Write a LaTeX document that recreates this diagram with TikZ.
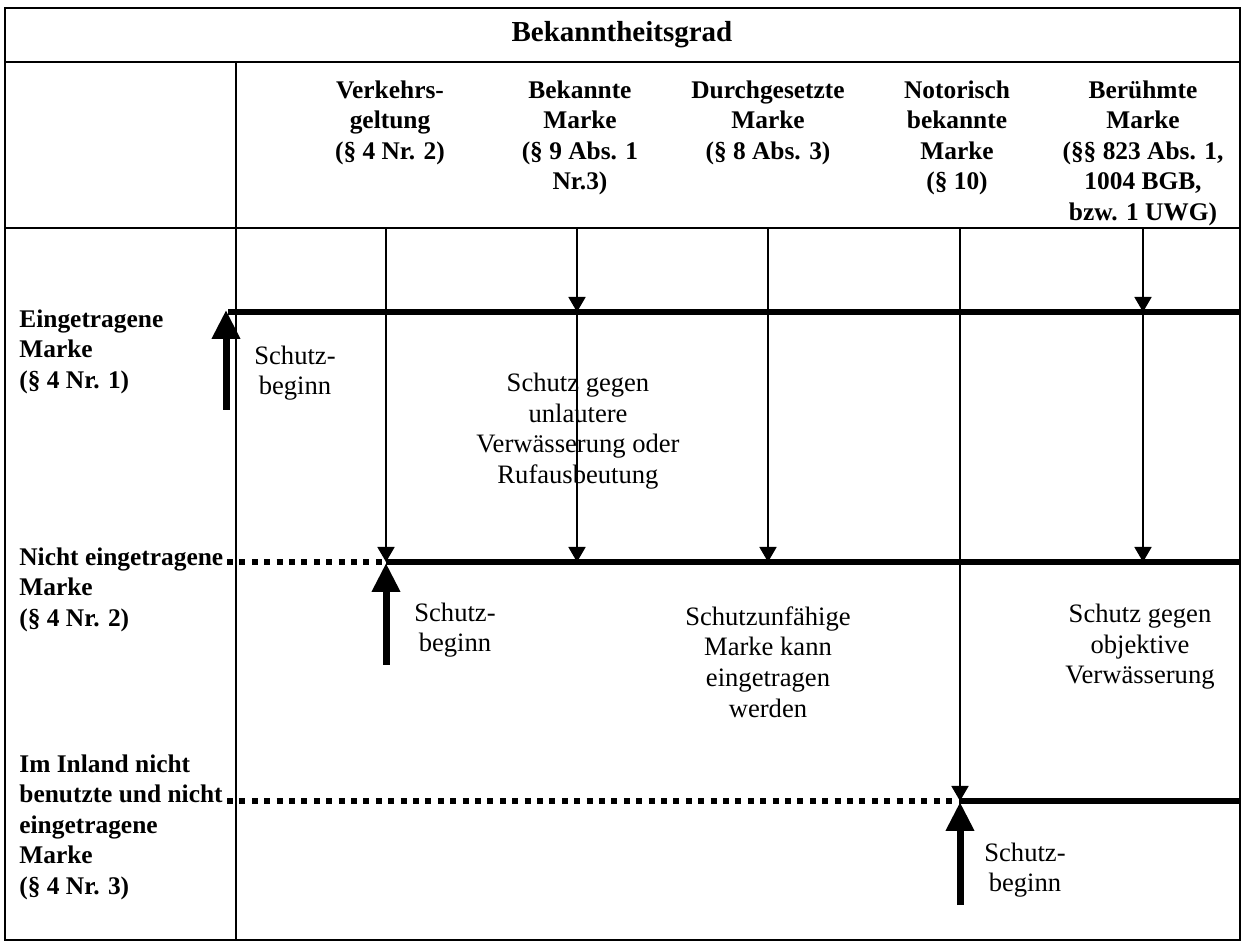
\documentclass[tikz,border=0pt]{standalone}
\usepackage{fontspec}
\setmainfont{Liberation Serif}
\usetikzlibrary{arrows.meta}

\begin{document}
\begin{tikzpicture}[x=0.5pt,y=-0.5pt,
  grade/.style={align=center,anchor=north,inner sep=0pt,font=\bfseries\fontsize{12.7}{15.3}\selectfont},
  rowlabel/.style={align=left,anchor=north west,inner sep=0pt,font=\bfseries\fontsize{12.7}{15.3}\selectfont},
  note/.style={align=center,inner sep=0pt,font=\fontsize{13.3}{15.3}\selectfont},
  level/.style={line width=3.3pt},
  pending/.style={line width=3pt,dash pattern=on 3pt off 3.2pt},
  onset/.style={line width=3.5pt,-{Triangle[width=13.5pt,length=14.5pt]}},
  reach/.style={line width=0.9pt,-{Triangle[width=8.5pt,length=7.5pt]}}]

\useasboundingbox (0,0) rectangle (1244,946);

\draw[line width=1pt] (5,8) rectangle (1240,940)
      (5,62) -- (1240,62) (5,228) -- (1240,228) (236,62) -- (236,940);

\node[font=\bfseries\fontsize{14.5}{17}\selectfont] (title) at (622,35) {Bekanntheitsgrad};

\node[grade] (gVG) at (390,80) {Verkehrs-\\geltung\\(§ 4 Nr. 2)};
\node[grade] (gBM) at (580,80) {Bekannte\\Marke\\(§ 9 Abs. 1\\Nr.3)};
\node[grade] (gDM) at (768,80) {Durchgesetzte\\Marke\\(§ 8 Abs. 3)};
\node[grade] (gNM) at (957,80) {Notorisch\\bekannte\\Marke\\(§ 10)};
\node[grade] (gBR) at (1143,80) {Berühmte\\Marke\\(§§ 823 Abs. 1,\\1004 BGB,\\bzw. 1 UWG)};

\node[rowlabel] (rE) at (19,309) {Eingetragene\\Marke\\(§ 4 Nr. 1)};
\node[rowlabel] (rN) at (19,547) {Nicht eingetragene\\Marke\\(§ 4 Nr. 2)};
\node[rowlabel] (rI) at (19,754) {Im Inland nicht\\benutzte und nicht\\eingetragene\\Marke\\(§ 4 Nr. 3)};

\coordinate (eStart) at (228,312); \coordinate (eEnd) at (1240,312);
\coordinate (nDot) at (227,562); \coordinate (nStart) at (386,562); \coordinate (nEnd) at (1240,562);
\coordinate (iDot) at (227,801); \coordinate (iStart) at (960,801); \coordinate (iEnd) at (1240,801);

\draw[level] (eStart) -- (eEnd);
\draw[pending] (nDot) -- (nStart);
\draw[level] (nStart) -- (nEnd);
\draw[pending] (iDot) -- (iStart);
\draw[level] (iStart) -- (iEnd);

\coordinate (tVG) at (386,228); \coordinate (tBM) at (577,228); \coordinate (tDM) at (768,228);
\coordinate (tNM) at (960,228); \coordinate (tBR) at (1143,228);
\coordinate (eBM) at (577,312); \coordinate (eBR) at (1143,312);
\coordinate (nBM) at (577,562); \coordinate (nDM) at (768,562); \coordinate (nBR) at (1143,562);

\draw[reach] (tVG) -- (nStart);
\draw[reach] (tBM) -- (eBM);
\draw[reach] (eBM) -- (nBM);
\draw[reach] (tDM) -- (nDM);
\draw[reach] (tNM) -- (iStart);
\draw[reach] (tBR) -- (eBR);
\draw[reach] (eBR) -- (nBR);

\coordinate (uE) at (226,410); \coordinate (uEtip) at (226,310);
\coordinate (uN) at (386,665); \coordinate (uNtip) at (386,563);
\coordinate (uI) at (960,905); \coordinate (uItip) at (960,802);
\draw[onset] (uE) -- (uEtip);
\draw[onset] (uN) -- (uNtip);
\draw[onset] (uI) -- (uItip);

\node[note] (sE) at (295,373) {Schutz-\\beginn};
\node[note] (sN) at (455,630) {Schutz-\\beginn};
\node[note] (sI) at (1025,870) {Schutz-\\beginn};
\node[note] (unl) at (578,431) {Schutz gegen\\unlautere\\Verwässerung oder\\Rufausbeutung};
\node[note] (unf) at (768,662) {Schutzunfähige\\Marke kann\\eingetragen\\werden};
\node[note] (obj) at (1140,647) {Schutz gegen\\objektive\\Verwässerung};
\end{tikzpicture}
\end{document}
